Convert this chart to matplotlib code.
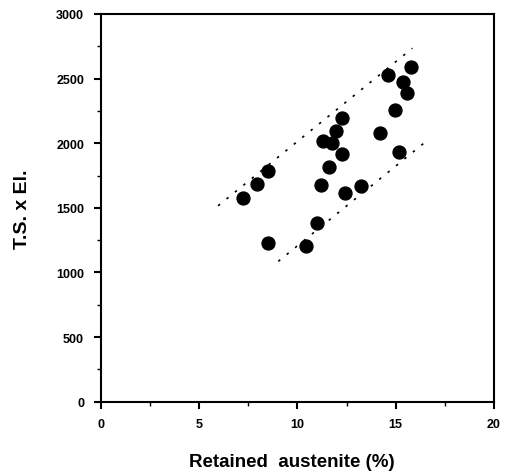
import matplotlib
matplotlib.use("Agg")
import matplotlib.pyplot as plt
from matplotlib.ticker import MultipleLocator

# retained austenite (%) vs T.S. x El.
austenite = [7.22, 7.96, 8.52, 8.52, 10.44, 10.98, 11.20, 11.29, 11.75, 11.62, 12.26,
             11.97, 12.26, 12.44, 13.24, 14.20, 14.97, 15.17, 14.61, 15.39, 15.56, 15.78]
ts_el = [1574, 1687, 1788, 1228, 1202, 1380, 1675, 2015, 2000, 1814, 1914,
         2092, 2198, 1613, 1669, 2079, 2258, 1930, 2528, 2474, 2391, 2592]

# dotted band limits
upper_x = [5.97, 15.85]
upper_y = [1516, 2735]
lower_x = [9.03, 16.49]
lower_y = [1086, 2007]

plt.rcParams['font.family'] = ['Liberation Sans', 'DejaVu Sans']

fig = plt.figure(figsize=(5.1, 4.77), dpi=100)
ax = fig.add_axes([0.1975, 0.1558, 0.7711, 0.8128])

ax.plot(austenite, ts_el, 'o', color='black', markersize=9.3, zorder=3)
ax.plot(upper_x, upper_y, color='black', lw=1.2, linestyle=(0, (1.5, 5)))
ax.plot(lower_x, lower_y, color='black', lw=1.2, linestyle=(0, (1.5, 5)))

ax.set_xlim(0, 20)
ax.set_ylim(0, 3000)
ax.xaxis.set_major_locator(MultipleLocator(5))
ax.xaxis.set_minor_locator(MultipleLocator(2.5))
ax.yaxis.set_major_locator(MultipleLocator(500))
ax.yaxis.set_minor_locator(MultipleLocator(250))
ax.tick_params(which='major', direction='out', length=5, width=1.5, labelsize=9, pad=7)
ax.tick_params(which='minor', direction='out', length=3, width=1)
for lbl in ax.get_xticklabels() + ax.get_yticklabels():
    lbl.set_fontweight('heavy')
for s in ax.spines.values():
    s.set_linewidth(1.5)

ax.set_xlabel('Retained  austenite (%)', fontsize=13.5, fontweight='heavy')
ax.set_ylabel('T.S. x El.', fontsize=14, fontweight='heavy')
ax.xaxis.set_label_coords(0.485, -0.133)
ax.yaxis.set_label_coords(-0.178, 0.5)

fig.savefig('out.png', dpi=100)
